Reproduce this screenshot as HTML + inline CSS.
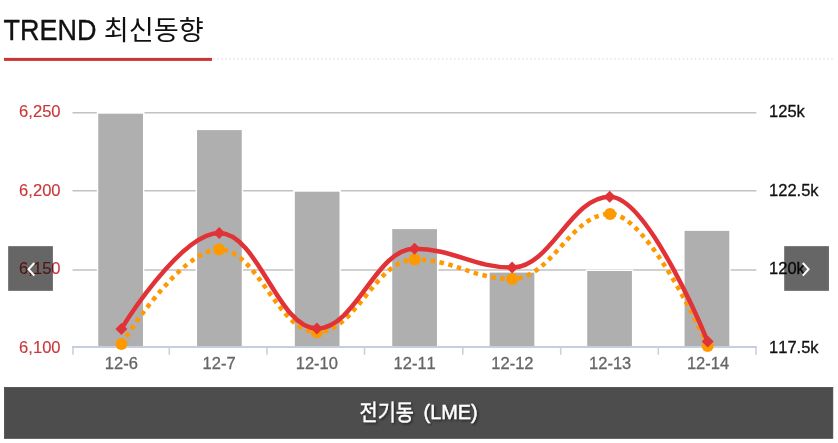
<!DOCTYPE html>
<html lang="ko"><head><meta charset="utf-8"><title>TREND</title>
<style>html,body{margin:0;padding:0;background:#fff;overflow:hidden}svg{display:block;will-change:transform}text{font-family:"Liberation Sans","Noto Sans CJK KR",sans-serif;font-kerning:none}</style>
</head><body>
<svg width="838" height="443" viewBox="0 0 838 443">
<rect width="838" height="443" fill="#fff"/>
<g filter="url(#idn)">
<text stroke="#111" stroke-width="0.35" transform="translate(3.60 39.50) scale(1.0000 1.0750)" font-size="27.00" fill="#111" text-anchor="start" xml:space="preserve">TREND</text>
</g>
<text x="103.80" y="40.10" font-size="27.20" fill="#111" text-anchor="start" style="font-family:'Liberation Sans','Noto Sans CJK KR',sans-serif">최신동향</text>
<line x1="213.1" y1="59.05" x2="833.2" y2="59.05" stroke="#e1e4ec" stroke-width="1.6" stroke-dasharray="1.5 2.5136"/>
<rect x="4" y="57.9" width="208" height="3" fill="#cc3333"/>
<line x1="72.50" y1="112.75" x2="756.40" y2="112.75" stroke="#c2c2c2" stroke-width="1.4"/>
<line x1="72.50" y1="190.80" x2="756.40" y2="190.80" stroke="#c2c2c2" stroke-width="1.4"/>
<line x1="72.50" y1="270.00" x2="756.40" y2="270.00" stroke="#c2c2c2" stroke-width="1.4"/>
<rect x="96.85" y="111.50" width="47.50" height="2.2" fill="#fff"/>
<rect x="97.55" y="113.00" width="46.10" height="234.30" fill="#afafaf" stroke="#fff" stroke-width="1.4"/>
<rect x="196.35" y="129.40" width="46.10" height="217.90" fill="#afafaf" stroke="#fff" stroke-width="1.4"/>
<rect x="293.40" y="189.50" width="47.50" height="2.2" fill="#fff"/>
<rect x="294.10" y="191.00" width="46.10" height="156.30" fill="#afafaf" stroke="#fff" stroke-width="1.4"/>
<rect x="391.55" y="228.40" width="46.10" height="118.90" fill="#afafaf" stroke="#fff" stroke-width="1.4"/>
<rect x="488.95" y="271.90" width="46.10" height="75.40" fill="#afafaf" stroke="#fff" stroke-width="1.4"/>
<rect x="586.50" y="270.30" width="46.10" height="77.00" fill="#afafaf" stroke="#fff" stroke-width="1.4"/>
<rect x="683.90" y="230.15" width="46.10" height="117.15" fill="#afafaf" stroke="#fff" stroke-width="1.4"/>
<rect x="72" y="346" width="685" height="2" fill="#c5ceda"/>
<line x1="73.00" y1="347.00" x2="73.00" y2="354.80" stroke="#c8d1de" stroke-width="1.6"/>
<line x1="169.30" y1="347.00" x2="169.30" y2="354.80" stroke="#c8d1de" stroke-width="1.6"/>
<line x1="267.00" y1="347.00" x2="267.00" y2="354.80" stroke="#c8d1de" stroke-width="1.6"/>
<line x1="364.50" y1="347.00" x2="364.50" y2="354.80" stroke="#c8d1de" stroke-width="1.6"/>
<line x1="462.80" y1="347.00" x2="462.80" y2="354.80" stroke="#c8d1de" stroke-width="1.6"/>
<line x1="560.70" y1="347.00" x2="560.70" y2="354.80" stroke="#c8d1de" stroke-width="1.6"/>
<line x1="658.30" y1="347.00" x2="658.30" y2="354.80" stroke="#c8d1de" stroke-width="1.6"/>
<line x1="756.00" y1="347.00" x2="756.00" y2="354.80" stroke="#c8d1de" stroke-width="1.6"/>
<g filter="url(#idn)">
<text stroke="#c9373a" stroke-width="0.15" transform="translate(60.60 117.00) scale(1.0000 0.9550)" font-size="16.60" fill="#c9373a" text-anchor="end" xml:space="preserve">6,250</text>
<text stroke="#c9373a" stroke-width="0.15" transform="translate(60.60 195.90) scale(1.0000 0.9550)" font-size="16.60" fill="#c9373a" text-anchor="end" xml:space="preserve">6,200</text>
<text stroke="#c9373a" stroke-width="0.15" transform="translate(60.60 274.30) scale(1.0000 0.9550)" font-size="16.60" fill="#c9373a" text-anchor="end" xml:space="preserve">6,150</text>
<text stroke="#c9373a" stroke-width="0.15" transform="translate(60.60 352.80) scale(1.0000 0.9550)" font-size="16.60" fill="#c9373a" text-anchor="end" xml:space="preserve">6,100</text>
<text stroke="#111" stroke-width="0.3" transform="translate(769.10 116.90) scale(1.0000 0.9550)" font-size="16.50" fill="#111" text-anchor="start" xml:space="preserve">125k</text>
<text stroke="#111" stroke-width="0.3" transform="translate(769.10 195.80) scale(1.0000 0.9550)" font-size="16.50" fill="#111" text-anchor="start" xml:space="preserve">122.5k</text>
<text stroke="#111" stroke-width="0.3" transform="translate(769.10 274.20) scale(1.0000 0.9550)" font-size="16.50" fill="#111" text-anchor="start" xml:space="preserve">120k</text>
<text stroke="#111" stroke-width="0.3" transform="translate(769.10 352.70) scale(1.0000 0.9550)" font-size="16.50" fill="#111" text-anchor="start" xml:space="preserve">117.5k</text>
<text stroke="#666" stroke-width="0.3" transform="translate(121.30 369.40) scale(1.0000 0.9550)" font-size="16.50" fill="#666" text-anchor="middle" xml:space="preserve">12-6</text>
<text stroke="#666" stroke-width="0.3" transform="translate(219.08 369.40) scale(1.0000 0.9550)" font-size="16.50" fill="#666" text-anchor="middle" xml:space="preserve">12-7</text>
<text stroke="#666" stroke-width="0.3" transform="translate(316.86 369.40) scale(1.0000 0.9550)" font-size="16.50" fill="#666" text-anchor="middle" xml:space="preserve">12-10</text>
<text stroke="#666" stroke-width="0.3" transform="translate(414.64 369.40) scale(1.0000 0.9550)" font-size="16.50" fill="#666" text-anchor="middle" xml:space="preserve">12-11</text>
<text stroke="#666" stroke-width="0.3" transform="translate(512.42 369.40) scale(1.0000 0.9550)" font-size="16.50" fill="#666" text-anchor="middle" xml:space="preserve">12-12</text>
<text stroke="#666" stroke-width="0.3" transform="translate(610.20 369.40) scale(1.0000 0.9550)" font-size="16.50" fill="#666" text-anchor="middle" xml:space="preserve">12-13</text>
<text stroke="#666" stroke-width="0.3" transform="translate(707.98 369.40) scale(1.0000 0.9550)" font-size="16.50" fill="#666" text-anchor="middle" xml:space="preserve">12-14</text>
</g>
<path d="M 121.40 344.10 C 121.40 344.10 179.96 249.60 219.00 249.60 C 258.16 249.60 277.74 332.20 316.90 332.20 C 355.98 332.20 375.52 259.50 414.60 259.50 C 453.60 259.50 473.10 278.90 512.10 278.90 C 551.30 278.90 570.90 213.90 610.10 213.90 C 649.14 213.90 707.70 346.10 707.70 346.10" fill="none" stroke="#ff9900" stroke-width="4.50" stroke-dasharray="4.5 4.5" stroke-linejoin="round"/>
<circle cx="121.40" cy="344.10" r="6.00" fill="#ff9900"/>
<circle cx="219.00" cy="249.60" r="6.00" fill="#ff9900"/>
<circle cx="316.90" cy="332.20" r="6.00" fill="#ff9900"/>
<circle cx="414.60" cy="259.50" r="6.00" fill="#ff9900"/>
<circle cx="512.10" cy="278.90" r="6.00" fill="#ff9900"/>
<circle cx="610.10" cy="213.90" r="6.00" fill="#ff9900"/>
<circle cx="707.70" cy="346.10" r="6.00" fill="#ff9900"/>
<path d="M 121.40 328.90 C 121.40 328.90 180.08 233.00 219.20 233.00 C 258.28 233.00 277.82 328.50 316.90 328.50 C 355.96 328.50 375.49 248.80 414.55 248.80 C 453.57 248.80 473.08 267.60 512.10 267.60 C 551.14 267.60 570.66 196.70 609.70 196.70 C 648.90 196.70 707.70 341.60 707.70 341.60" fill="none" stroke="#e13337" stroke-width="4.50" stroke-linejoin="round" stroke-linecap="round"/>
<path d="M 121.40 322.90 L 127.40 328.90 L 121.40 334.90 L 115.40 328.90 Z" fill="#e13337"/>
<path d="M 219.20 227.00 L 225.20 233.00 L 219.20 239.00 L 213.20 233.00 Z" fill="#e13337"/>
<path d="M 316.90 322.50 L 322.90 328.50 L 316.90 334.50 L 310.90 328.50 Z" fill="#e13337"/>
<path d="M 414.55 242.80 L 420.55 248.80 L 414.55 254.80 L 408.55 248.80 Z" fill="#e13337"/>
<path d="M 512.10 261.60 L 518.10 267.60 L 512.10 273.60 L 506.10 267.60 Z" fill="#e13337"/>
<path d="M 609.70 190.70 L 615.70 196.70 L 609.70 202.70 L 603.70 196.70 Z" fill="#e13337"/>
<path d="M 707.70 335.60 L 713.70 341.60 L 707.70 347.60 L 701.70 341.60 Z" fill="#e13337"/>
<rect x="8.15" y="246.15" width="44.75" height="44.7" fill="#000" fill-opacity="0.6"/>
<path d="M 34.3 263.0 L 28.5 269.3 L 34.3 275.6" fill="none" stroke="#fff" stroke-width="2"/>
<rect x="784.2" y="246.15" width="44.75" height="44.7" fill="#000" fill-opacity="0.6"/>
<path d="M 802.8 263.0 L 808.6 269.3 L 802.8 275.6" fill="none" stroke="#fff" stroke-width="2"/>
<rect x="4.35" y="387.35" width="828.5" height="51" fill="#4d4d4d" stroke="#434343" stroke-width="0.7"/>
<g filter="url(#sh)">
<text transform="translate(359.60 419.80) scale(1 1.125)" font-size="19.70" fill="#fff" stroke="#fff" stroke-width="0.3" text-anchor="start" style="font-family:'Liberation Sans','Noto Sans CJK KR',sans-serif">전기동</text>
<text stroke="#fff" stroke-width="0.4" transform="translate(418.00 419.40) scale(1.0000 1.0150)" font-size="19.90" fill="#fff" text-anchor="start" xml:space="preserve"> (LME)</text>
</g>
<defs><filter id="idn" x="-5%" y="-5%" width="110%" height="110%"><feOffset dx="0" dy="0"/></filter><filter id="sh" x="-5%" y="-20%" width="110%" height="150%"><feDropShadow dx="1.5" dy="1.5" stdDeviation="0.8" flood-color="#000" flood-opacity="0.5"/></filter></defs>
</svg></body></html>
